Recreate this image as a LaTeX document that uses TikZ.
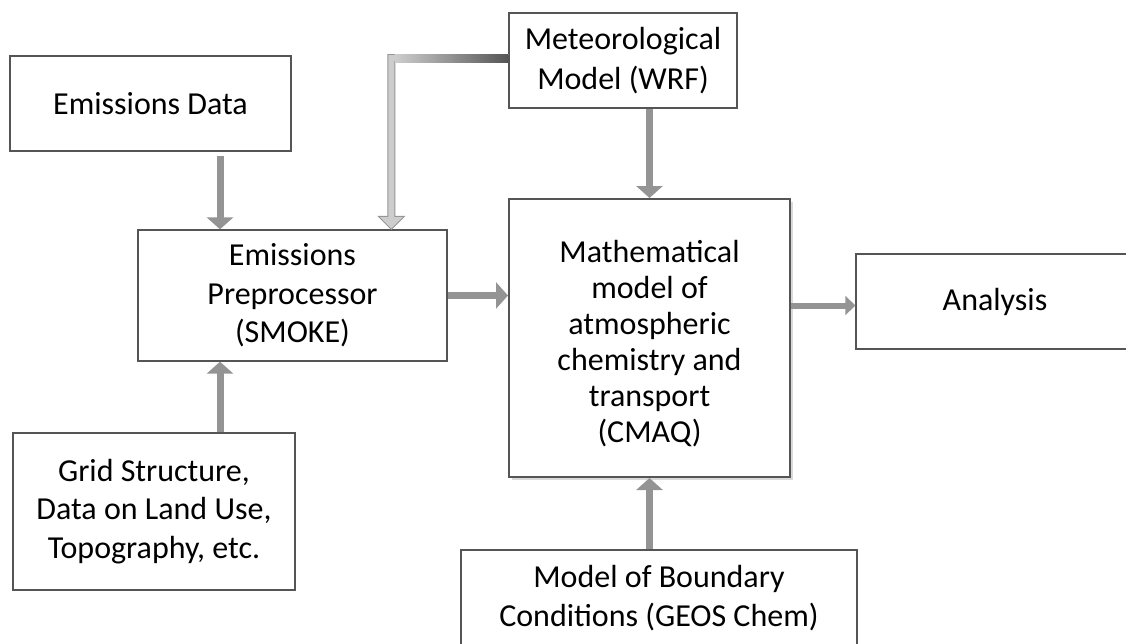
\documentclass[tikz,border=0pt]{standalone}
\usepackage{fontspec}
\setmainfont{Carlito}
\usetikzlibrary{arrows.meta,calc,shadows}
\definecolor{boxline}{RGB}{85,85,85}
\definecolor{arrgray}{RGB}{148,148,148}
\definecolor{hollowfill}{RGB}{205,205,205}
\definecolor{hollowline}{RGB}{150,150,150}
\definecolor{darkgrad}{RGB}{85,85,85}
\begin{document}
\begin{tikzpicture}[x=1pt,y=-1pt,
  box/.style={draw=boxline, line width=1.3pt, fill=white, align=center, inner sep=0pt,
    font=\fontsize{32}{38.5}\selectfont},
  txt/.style={align=center, inner sep=0pt, font=\fontsize{32}{36}\selectfont},
  barrow/.style={line width=7pt, draw=arrgray, -{Triangle[width=26pt,length=12pt]}},
  sarrow/.style={line width=6pt, draw=arrgray, -{Triangle[width=19pt,length=10pt]}},
  ]
\useasboundingbox (0,0) rectangle (1126,643);
\node[box, minimum width=281pt, minimum height=95pt] (ed) at (150.5,103.5) {Emissions Data};
\node[box, minimum width=228pt, minimum height=95pt, font=\fontsize{32}{40}\selectfont] (met) at (623,60.5) {Meteorological\\Model (WRF)};
\node[box, minimum width=309pt, minimum height=131pt] (pre) at (292.5,295.5) {Emissions\\Preprocessor\\(SMOKE)};
\node[box, minimum width=282pt, minimum height=157pt] (grid) at (154,511.5) {Grid Structure,\\Data on Land Use,\\Topography, etc.};
\node[box, line width=2pt, minimum width=281pt, minimum height=278pt,
  drop shadow={shadow xshift=2.5pt, shadow yshift=-2.5pt, opacity=0.3}] (cmaq) at (649.5,338) {};
\node[txt] (cmaqtext) at ([yshift=-6pt]cmaq.center)
  {Mathematical\\model of\\atmospheric\\chemistry and\\transport\\(CMAQ)};
\node[box, minimum width=278pt, minimum height=95pt] (ana) at (995,301.5) {Analysis};
\node[box, minimum width=396pt, minimum height=96pt] (bc) at (659,598) {Model of Boundary\\Conditions (GEOS Chem)};

% solid arrows
\draw[barrow, shorten <=4pt] ([xshift=69.5pt]ed.south) -- ([xshift=69.5pt]ed.south |- pre.north);
\draw[barrow] ([xshift=66pt]grid.north) -- ([xshift=66pt]grid.north |- pre.south);
\draw[barrow] (pre.east) -- (pre.east -| cmaq.west);
\draw[barrow] (cmaq.north |- met.south) -- (cmaq.north);
\draw[barrow] (cmaq.south |- bc.north) -- (cmaq.south);
\draw[sarrow] ([yshift=-4pt]ana.west -| cmaq.east) -- ([yshift=-4pt]ana.west);

% hollow elbow arrow from the meteorological model to the preprocessor
\coordinate (elb) at ([xshift=-117pt,yshift=2.5pt]met.west);
\coordinate (mw) at ([yshift=2.5pt]met.west);
\coordinate (tp) at (elb |- pre.north);
\filldraw[fill=hollowfill, draw=hollowline, line width=0.9pt, line join=miter]
  ($(mw)+(0,-3.5)$) -- ($(elb)+(-3.5,-3.5)$) -- ($(tp)+(-3.5,-13)$) -- ($(tp)+(-13,-13)$)
  -- (tp) -- ($(tp)+(13,-13)$) -- ($(tp)+(3.5,-13)$) -- ($(elb)+(3.5,3.5)$)
  -- ($(mw)+(0,3.5)$) -- cycle;
\shade[left color=hollowfill, right color=darkgrad]
  ($(elb)+(3.5,-4)$) rectangle ($(mw)+(0,4)$);
\end{tikzpicture}
\end{document}
